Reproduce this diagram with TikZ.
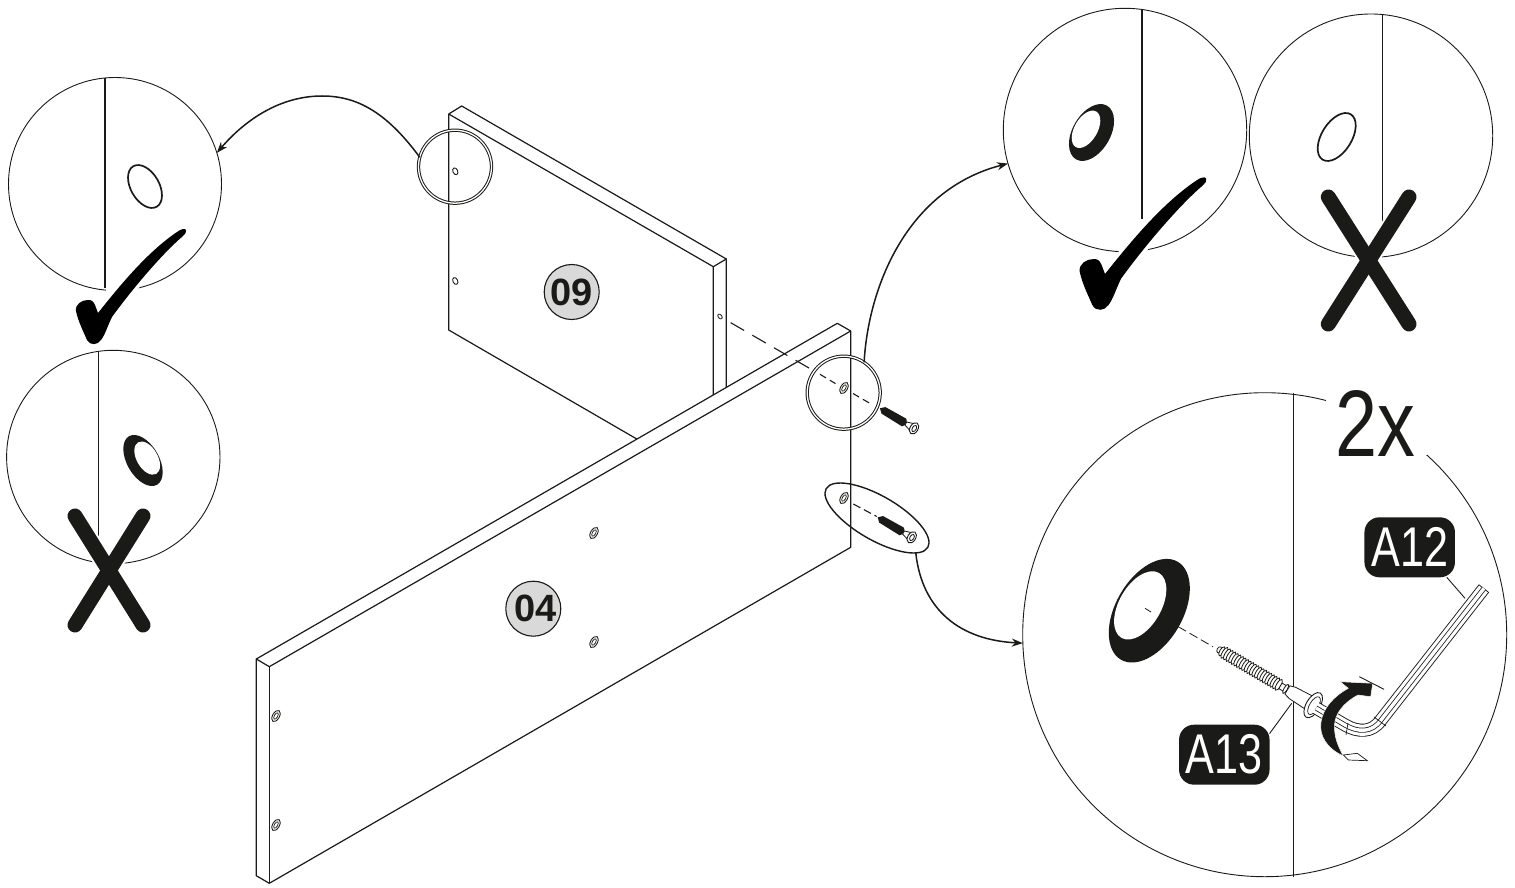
\documentclass[tikz,border=0pt]{standalone}
\usepackage{fontspec}
\usepackage{graphicx}
\setmainfont{Liberation Sans}
\usetikzlibrary{arrows.meta,shapes.geometric}
\definecolor{ink}{HTML}{1A1A18}
\definecolor{badgegray}{HTML}{D9D9D9}
\tikzset{
  panel/.style={line width=1.2pt,draw=ink,line join=round},
  bigcircle/.style={circle,draw=ink,line width=.9pt,inner sep=0pt,outer sep=0pt},
  divider/.style={draw=ink,line width=1.6pt},
  lens/.style={circle,draw=ink,line width=1pt,inner sep=0pt,outer sep=0pt,double=white,double distance=1.3pt},
  conn/.style={draw=ink,line width=1.5pt},
  connarrow/.style={conn,-{Stealth[length=11pt,width=8pt,inset=3.5pt]}},
  guide/.style={draw=ink,line width=1.1pt,dash pattern=on 15.5pt off 9.5pt},
  shortguide/.style={draw=ink,line width=1.1pt,dash pattern=on 7pt off 4.5pt},
  badge/.style={circle,draw=ink,line width=1.1pt,fill=badgegray,inner sep=0pt,outer sep=0pt,minimum size=55pt,text=ink,font=\bfseries\fontsize{38}{38}\selectfont},
  tag/.style={fill=ink,rounded corners=15pt,minimum width=90.5pt,minimum height=60pt,inner sep=0pt,outer sep=0pt,text=white,font=\fontsize{56}{56}\selectfont},
  leader/.style={draw=ink,line width=.9pt},
  crossbar/.style={line cap=round,line width=15pt,draw=ink},
  crosshalo/.style={line cap=round,line width=19pt,draw=white},
  pics/tickmark/.style={code={
    \path[fill=black,draw=white,line width=7pt,line join=round]
      (0,0) .. controls (20,-25) and (48,-60) .. (79,-81)
      .. controls (83,-84) and (87,-85) .. (88,-83)
      .. controls (89,-81) and (87,-79) .. (85,-77)
      .. controls (65,-60) and (35,-25) .. (14,4)
      .. controls (10,12) and (7,22) .. (3,27)
      .. controls (0,32) and (-8,33) .. (-11,27)
      .. controls (-14,20) and (-20,8) .. (-22,-2)
      .. controls (-23,-9) and (-16,-13) .. (-10,-13)
      .. controls (-6,-13) and (-5,-12) .. (-3,-8) -- cycle;
    \path[fill=black]
      (0,0) .. controls (20,-25) and (48,-60) .. (79,-81)
      .. controls (83,-84) and (87,-85) .. (88,-83)
      .. controls (89,-81) and (87,-79) .. (85,-77)
      .. controls (65,-60) and (35,-25) .. (14,4)
      .. controls (10,12) and (7,22) .. (3,27)
      .. controls (0,32) and (-8,33) .. (-11,27)
      .. controls (-14,20) and (-20,8) .. (-22,-2)
      .. controls (-23,-9) and (-16,-13) .. (-10,-13)
      .. controls (-6,-13) and (-5,-12) .. (-3,-8) -- cycle;
  }},
  pics/smallscrew/.style={code={
    \fill[ink] (0,0) -- (4,-3.8) -- (28,-4.4) -- (30,-1.8) -- (30,1.8) -- (28,4.4) -- (4,3.8) -- cycle;
    \draw[ink,line width=.8pt,fill=white] (30,-1.8) -- (38,-4.2) -- (38,4.2) -- (30,1.8) -- cycle;
    \draw[ink,line width=.9pt,fill=white] (39.5,0) ellipse [x radius=4,y radius=6.2];
    \draw[ink,line width=.8pt] (39.8,0) ellipse [x radius=2,y radius=3.4];
  }},
  pics/frontbore/.style={code={
    \draw[ink,line width=.9pt,rotate=60] (0,0) ellipse [x radius=6.2,y radius=3.4];
    \draw[ink,line width=.7pt,rotate=60] (0,0) ellipse [x radius=3.6,y radius=1.7];
  }},
}
\newcommand{\rotell}[5]{\path[#1,shift={(#2)},rotate=#3] (0,0) ellipse [x radius=#4,y radius=#5];}
\begin{document}
\begin{tikzpicture}[x=1pt,y=-1pt]
\useasboundingbox (0,0) rectangle (1515,888);
\fill[white] (0,0) rectangle (1515,888);

% panel 09
\draw[panel] (448.7,114) -- (461.7,106) -- (726.3,259) -- (726.3,387);
\draw[panel] (448.7,114) -- (713.3,266.7) -- (713.3,396);
\draw[panel] (713.3,266.7) -- (726.3,259);
\draw[panel] (448.7,114) -- (448.7,330) -- (637.3,439.3);
\rotell{draw=ink,line width=.9pt}{455.3,171.3}{-65}{3.6}{2.4}
\rotell{draw=ink,line width=.9pt}{455.3,281}{-65}{3.6}{2.4}
\rotell{draw=ink,line width=.8pt}{720,316.5}{-50}{2.8}{1.8}

% panel 04
\draw[panel,fill=white] (256.3,659) -- (837.3,323.3) -- (850.7,331) -- (850.7,547.3) -- (269.3,883.3) -- (256.3,875.7) -- cycle;
\draw[panel] (256.3,659) -- (269.3,666.7) -- (850.7,331);
\draw[panel] (269.3,666.7) -- (269.3,883.3);
\pic at (594,533) {frontbore};
\pic at (594,642) {frontbore};
\pic at (276,716) {frontbore};
\pic at (276,825) {frontbore};
\pic at (844,388) {frontbore};
\pic at (844,498) {frontbore};

\node[badge] (b09) at (571.7,292) {09};
\node[badge] (b04) at (533.3,608.7) {\hspace{4pt}04};

% lenses on panels
\node[lens,minimum size=73pt] (lensA) at (455,166.7) {};
\node[lens,minimum size=73pt] (lensB) at (843.7,392.7) {};
\node[ellipse,rotate=-30,draw=ink,line width=1.4pt,minimum width=117.4pt,minimum height=44pt,inner sep=0pt,outer sep=0pt] (lensC) at (877,518) {};

% guides
\coordinate (gA) at (730.7,322.7);
\coordinate (gA2) at (815,371.5);
\coordinate (gA3) at (820,374.3);
\coordinate (gA4) at (835.5,383.6);
\coordinate (gB1) at (853,393.5);
\coordinate (gB) at (870.5,403.7);
\draw[guide] (gA) -- (gA2);
\draw[shortguide] (gA3) -- (gA4);
\draw[shortguide] (gB1) -- (gB);
\coordinate (gC) at (853.3,504);
\coordinate (gD) at (876.7,516.5);
\draw[shortguide,dash pattern=on 8pt off 4pt] (gC) -- (gD);
\pic[rotate=-30.5] at (880,408.3) {smallscrew};
\pic[rotate=-30.5] at (877.7,517.3) {smallscrew};

% zoom circle: left top
\node[bigcircle,minimum size=213pt] (zLA) at (115,184) {};
\draw[divider] (105,77.6) -- (105,288);
\rotell{draw=ink,line width=1.7pt}{145,186.5}{-60}{23.4}{14.2}
\fill[white] (105.9,280) rectangle (120,296);
\pic at (98,313) {tickmark};

% zoom circle: left bottom
\node[bigcircle,minimum size=213.4pt] (zLB) at (113.3,457) {};
\draw[divider,line width=1.3pt] (98.5,351) -- (98.5,538);
\rotell{fill=ink}{143,460.5}{-60}{28}{16}
\rotell{fill=white}{147.2,458.1}{-60}{18.2}{10.5}
\coordinate (xa1) at (75,516); \coordinate (xa2) at (143,625);
\coordinate (xb1) at (143,516); \coordinate (xb2) at (75,625);
\draw[crosshalo] (xa1) -- (xa2);
\draw[crosshalo] (xb1) -- (xb2);
\draw[crossbar] (xa1) -- (xa2);
\draw[crossbar] (xb1) -- (xb2);

% zoom circle: right A
\node[bigcircle,minimum size=243.4pt] (zRA) at (1125,130) {};
\draw[divider] (1141.7,9) -- (1141.7,219);
\rotell{fill=ink}{1091.5,132.5}{60}{31}{18.9}
\rotell{fill=white}{1086,129.3}{60}{20.5}{11.5}
\pic[scale=1.15] at (1105,274) {tickmark};

% zoom circle: right B
\node[bigcircle,minimum size=243.4pt] (zRB) at (1371,135.7) {};
\draw[divider,line width=1.3pt] (1382.7,14) -- (1382.7,257);
\rotell{draw=ink,line width=1.7pt}{1336.7,137}{58}{26.7}{15}
\coordinate (xc1) at (1328.3,197); \coordinate (xc2) at (1409,324);
\coordinate (xd1) at (1409,197); \coordinate (xd2) at (1328.3,324);
\draw[crosshalo] (xc1) -- (xc2);
\draw[crosshalo] (xd1) -- (xd2);
\draw[crossbar] (xc1) -- (xc2);
\draw[crossbar] (xd1) -- (xd2);

% connectors
\draw[connarrow] (lensA.165) .. controls (385,110) and (355,96) .. (322,96) .. controls (280,96) and (245,120) .. (zLA.17);
\draw[connarrow] (lensB.56) .. controls (868,290) and (905,190) .. (zRA.196);

% big circle
\node[bigcircle,minimum size=484pt] (zBig) at (1264.7,634.7) {};
\draw[connarrow] (lensC.-12) .. controls (922,610) and (960,640) .. (zBig.182.7);
\node[fill=white,inner sep=0pt,outer sep=0pt,minimum width=101pt,minimum height=70pt] (gapbox) at (1376.5,420) {};
\node[anchor=base,xscale=.8,text=ink,font=\fontsize{94.5}{94.5}\selectfont,inner sep=0pt] (twox) at (1375.8,456) {2x};
\draw[divider,line width=1pt] (1293.3,393) -- (1293.3,876.5);

% big washer
\rotell{fill=ink}{1149.3,610.7}{60}{56.6}{33.5}
\rotell{fill=white}{1140.2,605.4}{60}{37.5}{21}
\coordinate (wA) at (1145,608.3);
\coordinate (wB) at (1151,612);
\draw[draw=ink,line width=.8pt] (wA) -- (wB);
\coordinate (wC) at (1178.3,626.7);
\coordinate (wD) at (1213,646.7);
\draw[guide,line width=.8pt,dash pattern=on 9pt off 4pt] (wC) -- (wD);

% screw
\begin{scope}[shift={(1216.7,648.3)},rotate=-30.5]
  \foreach \u in {3,6,...,72}{
    \pgfmathsetmacro\hh{min(6.2,1.5+0.6*\u)}
    \draw[ink,line width=.8pt,fill=white] (\u,0) ellipse [x radius=2.2,y radius=\hh];
  }
  \draw[ink,line width=.8pt,fill=white] (74,-3.2) -- (79,-3.2) -- (79,3.2) -- (74,3.2) -- cycle;
  \draw[ink,line width=.8pt,fill=white] (80,0) ellipse [x radius=1.7,y radius=5.2];
  \draw[ink,line width=.8pt,fill=white] (82,-4.8) -- (88,-6.5) -- (107,-7.5) -- (107,7.5) -- (88,6.5) -- (82,4.8) -- cycle;
  \draw[ink,line width=.9pt,fill=white] (112,0) ellipse [x radius=7,y radius=14];
  \draw[ink,line width=.7pt,fill=white] (113,0) ellipse [x radius=4.5,y radius=10];
\end{scope}

% hex key
\draw[draw=ink,line width=13pt,line join=round] (1316,708) -- (1345,725) .. controls (1358,732.5) and (1372,733) .. (1381,720) -- (1484,588.3);
\draw[draw=white,line width=11.2pt,line join=round,shorten >=.9pt,shorten <=-.7pt] (1316,708) -- (1345,725) .. controls (1358,732.5) and (1372,733) .. (1381,720) -- (1484,588.3);
\draw[draw=ink,line width=.8pt,double=white,double distance=3.4pt] (1316,708) -- (1345,725) .. controls (1358,732.5) and (1372,733) .. (1381,720) -- (1484,588.3);
\draw[draw=ink,line width=.7pt] (1348,723) -- (1346,735);
\draw[draw=ink,line width=.7pt] (1374,717) -- (1386,726);

% turn arrow
\path[fill=ink,draw=white,line width=.5pt,line join=round] (1343.3,756)
  .. controls (1326,748) and (1319,735) .. (1321,722)
  .. controls (1323,708) and (1334,696) .. (1348.3,688.3)
  -- (1340,681.7) -- (1372.7,683.3) -- (1370.7,696.7) -- (1358,695)
  .. controls (1343,703) and (1335,714) .. (1334.5,725)
  .. controls (1334,737) and (1338,746) .. (1343.3,756) -- cycle;
\path[fill=white,draw=ink,line width=.7pt] (1343.3,755) -- (1357.3,753.3) -- (1367.3,760.7) -- (1348.3,760) -- cycle;
\coordinate (tkA) at (1359.3,676.7);
\coordinate (tkB) at (1384,689.3);
\draw[leader] (tkA) -- (tkB);

% labels
\node[tag] (a12) at (1409.7,547.3) {\scalebox{.77}[1]{A12}};
\node[tag] (a13) at (1224.3,754.7) {\scalebox{.77}[1]{A13}};
\coordinate (a12end) at (1465,598.3);
\coordinate (a13end) at (1291.7,703.3);
\draw[leader] (a12.-39) -- (a12end);
\draw[leader] (a13.25) -- (a13end);
\end{tikzpicture}
\end{document}
